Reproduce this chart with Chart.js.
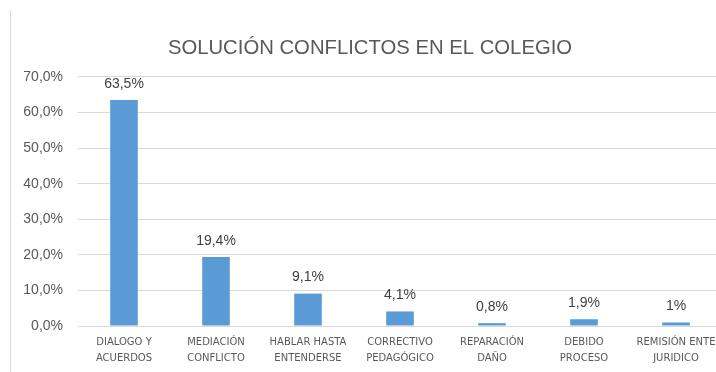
<!DOCTYPE html>
<html>
<head>
<meta charset="utf-8">
<script src="https://cdn.jsdelivr.net/npm/chart.js@4"></script>
<style>
  html, body { margin: 0; padding: 0; background: #fff; overflow: hidden; }
  #frame { position: absolute; left: 10px; top: 10px; width: 800px; height: 400px; border-left: 1px solid #d9d9d9; }
  #wrap { position: absolute; left: 0; top: 0; width: 780px; height: 372px; }
</style>
</head>
<body>
<div id="frame"></div>
<div id="wrap"><canvas id="chart"></canvas></div>
<script>
const categories = [
  ['DIALOGO Y', 'ACUERDOS'],
  ['MEDIACIÓN', 'CONFLICTO'],
  ['HABLAR HASTA', 'ENTENDERSE'],
  ['CORRECTIVO', 'PEDAGÓGICO'],
  ['REPARACIÓN', 'DAÑO'],
  ['DEBIDO', 'PROCESO'],
  ['REMISIÓN ENTE', 'JURIDICO']
];
const values = [63.5, 19.4, 9.1, 4.1, 0.8, 1.9, 1.0];
const valueLabels = ['63,5%', '19,4%', '9,1%', '4,1%', '0,8%', '1,9%', '1%'];
const yTicks = ['0,0%', '10,0%', '20,0%', '30,0%', '40,0%', '50,0%', '60,0%', '70,0%'];

// etiquetas de valor encima de cada barra
const valueLabelPlugin = {
  id: 'valueLabels',
  afterDatasetsDraw(chart) {
    const ctx = chart.ctx;
    const meta = chart.getDatasetMeta(0);
    ctx.save();
    ctx.font = '14px "Liberation Sans", Arial, sans-serif';
    ctx.fillStyle = '#404040';
    ctx.textAlign = 'center';
    ctx.textBaseline = 'middle';
    meta.data.forEach((bar, i) => {
      ctx.fillText(valueLabels[i], bar.x, bar.y - 16);
    });
    ctx.restore();
  }
};

new Chart(document.getElementById('chart'), {
  type: 'bar',
  data: {
    labels: categories,
    datasets: [{
      data: values,
      backgroundColor: '#5b9bd5',
      barPercentage: 0.3,
      categoryPercentage: 1
    }]
  },
  options: {
    responsive: true,
    maintainAspectRatio: false,
    animation: false,
    layout: { padding: { left: 18, right: 58, top: 0, bottom: 0 } },
    plugins: {
      legend: { display: false },
      tooltip: { enabled: false },
      title: {
        display: true,
        text: 'SOLUCIÓN CONFLICTOS EN EL COLEGIO',
        color: '#595959',
        font: { family: '"Liberation Sans", Arial, sans-serif', size: 20.3, weight: 'normal', lineHeight: 1.2 },
        padding: { top: 36, bottom: 16.6 }
      }
    },
    scales: {
      x: {
        grid: { display: false, drawTicks: false },
        border: { display: false },
        ticks: {
          color: '#595959',
          font: { family: '"DejaVu Sans", sans-serif', size: 10, lineHeight: 1.6 },
          padding: 8,
          autoSkip: false,
          minRotation: 0,
          maxRotation: 0
        },
        afterFit(scale) { scale.height = 46; }
      },
      y: {
        min: 0,
        max: 70,
        grid: { color: '#d9d9d9', drawTicks: false },
        border: { display: false },
        ticks: {
          stepSize: 10,
          color: '#595959',
          font: { family: '"Liberation Sans", Arial, sans-serif', size: 14 },
          padding: 15,
          callback: (v) => yTicks[Math.round(v / 10)]
        },
        afterFit(scale) { scale.width = 60; }
      }
    }
  },
  plugins: [valueLabelPlugin]
});
</script>
</body>
</html>
